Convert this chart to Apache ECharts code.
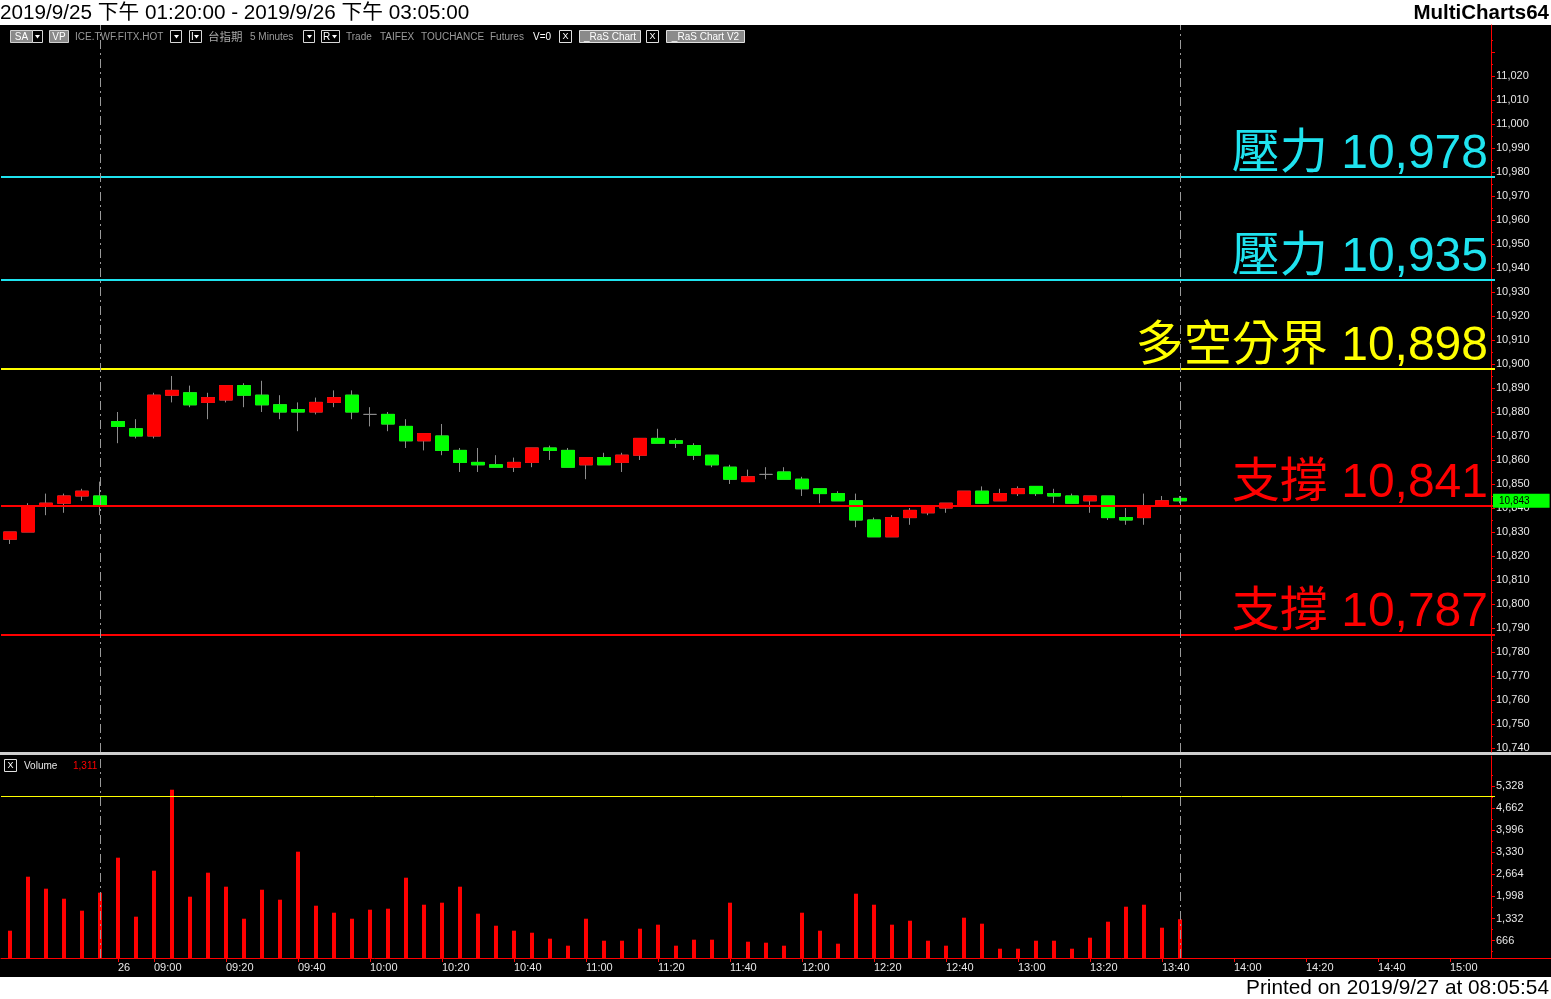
<!DOCTYPE html>
<html><head><meta charset="utf-8">
<script src="https://cdn.jsdelivr.net/npm/echarts/dist/echarts.min.js"></script>
<style>html,body{margin:0;padding:0;background:#000;}#c{width:1551px;height:999px;}</style>
</head><body><div id="c"></div>
<script>
// ---------- DATA ----------
const categories = [
 '9/25 13:20','9/25 13:25','9/25 13:30','9/25 13:35','9/25 13:40','9/25 13:45',
 '9/26 08:50','9/26 08:55','9/26 09:00','9/26 09:05','9/26 09:10','9/26 09:15','9/26 09:20','9/26 09:25','9/26 09:30','9/26 09:35',
 '9/26 09:40','9/26 09:45','9/26 09:50','9/26 09:55','9/26 10:00','9/26 10:05','9/26 10:10','9/26 10:15','9/26 10:20','9/26 10:25',
 '9/26 10:30','9/26 10:35','9/26 10:40','9/26 10:45','9/26 10:50','9/26 10:55','9/26 11:00','9/26 11:05','9/26 11:10','9/26 11:15',
 '9/26 11:20','9/26 11:25','9/26 11:30','9/26 11:35','9/26 11:40','9/26 11:45','9/26 11:50','9/26 11:55','9/26 12:00','9/26 12:05',
 '9/26 12:10','9/26 12:15','9/26 12:20','9/26 12:25','9/26 12:30','9/26 12:35','9/26 12:40','9/26 12:45','9/26 12:50','9/26 12:55',
 '9/26 13:00','9/26 13:05','9/26 13:10','9/26 13:15','9/26 13:20','9/26 13:25','9/26 13:30','9/26 13:35','9/26 13:40','9/26 13:45',
 '9/26 13:50','9/26 13:55','9/26 14:00','9/26 14:05','9/26 14:10','9/26 14:15','9/26 14:20','9/26 14:25','9/26 14:30','9/26 14:35',
 '9/26 14:40','9/26 14:45','9/26 14:50','9/26 14:55','9/26 15:00','9/26 15:05','9/26 15:10'
];
const opens  = [10827,10830,10841,10842,10845,10845,10876,10873,10870,10887,10888,10884,10885,10891,10887,10883,10881,10880,10884,10887,10879,10879,
                10874,10868,10870,10864,10859,10858,10857,10859,10865,10864,10858,10861,10859,10862,10869,10868,10866,10862,10857,10851,10854,10855,
                10852,10848,10846,10843,10835,10828,10836,10838,10840,10841,10847,10843,10846,10849,10846,10845,10843,10845,10836,10836,10841,10844];
const highs  = [10830,10842,10846,10846,10848,10851,10880,10877,10888,10895,10891,10888,10891,10892,10893,10887,10884,10886,10889,10889,10882,10880,
                10877,10871,10875,10865,10865,10862,10861,10865,10866,10865,10861,10863,10863,10869,10873,10869,10867,10862,10858,10856,10857,10857,
                10853,10848,10847,10846,10836,10837,10840,10841,10842,10847,10849,10848,10849,10849,10848,10846,10845,10845,10840,10846,10845,10845];
const lows   = [10825,10830,10837,10838,10843,10837,10867,10869,10869,10884,10882,10877,10884,10882,10880,10877,10872,10879,10882,10877,10874,10872,
                10865,10864,10862,10855,10855,10857,10855,10857,10860,10857,10852,10858,10855,10860,10867,10865,10860,10857,10850,10851,10852,10852,
                10845,10842,10843,10832,10828,10828,10833,10837,10838,10841,10842,10843,10845,10845,10842,10842,10838,10835,10833,10833,10841,10842];
const closes = [10830,10841,10842,10845,10847,10841,10874,10870,10887,10889,10883,10886,10891,10887,10883,10880,10880,10884,10886,10880,10879,10875,
                10868,10871,10864,10859,10858,10857,10859,10865,10864,10857,10861,10858,10862,10869,10867,10867,10862,10858,10852,10853,10854,10852,
                10848,10846,10843,10835,10828,10836,10839,10841,10842,10847,10842,10846,10848,10846,10845,10842,10845,10836,10835,10841,10843,10843];
const volumes = [965,2592,2231,1929,1568,2110,3165,1387,2773,5214,1989,2713,2291,1326,2200,1899,3346,1718,1507,1326,1598,1628,
                 2562,1748,1809,2291,1477,1115,965,904,724,513,1326,663,663,1025,1146,513,694,694,1809,633,603,513,
                 1507,965,573,2080,1748,1146,1266,663,513,1357,1176,422,422,663,663,422,754,1236,1688,1748,1055,1311];
const levelNames  = ['壓力','壓力','多空分界','支撐','支撐'];
const levelValues = [10978,10935,10898,10841,10787];
const volumeRefLevel = 5025;
const dayEndCats = ['9/25 13:45','9/26 13:45'];
const xTickCats  = ['9/26 08:50','9/26 09:00','9/26 09:20','9/26 09:40','9/26 10:00','9/26 10:20','9/26 10:40','9/26 11:00','9/26 11:20',
                    '9/26 11:40','9/26 12:00','9/26 12:20','9/26 12:40','9/26 13:00','9/26 13:20','9/26 13:40','9/26 14:00','9/26 14:20',
                    '9/26 14:40','9/26 15:00'];
const xTickTexts = ['26','09:00','09:20','09:40','10:00','10:20','10:40','11:00','11:20','11:40','12:00','12:20','12:40','13:00','13:20',
                    '13:40','14:00','14:20','14:40','15:00'];
const priceTickLabels = [10740,10750,10760,10770,10780,10790,10800,10810,10820,10830,10840,10850,10860,10870,10880,10890,10900,
                         10910,10920,10930,10940,10950,10960,10970,10980,10990,11000,11010,11020];
const priceMajorTicks = priceTickLabels.concat([11030]);
const priceMinorTicks = [10745,10755,10765,10775,10785,10795,10805,10815,10825,10835,10845,10855,10865,10875,10885,10895,10905,10915,
                         10925,10935,10945,10955,10965,10975,10985,10995,11005,11015,11025,11035];
const volTickLabels = [666,1332,1998,2664,3330,3996,4662,5328];
const volMinorTicks = [333,999,1665,2331,2997,3663,4329,4995,5661];
const titleText = '2019/9/25 下午 01:20:00 - 2019/9/26 下午 03:05:00';
const brandText = 'MultiCharts64';
const printedText = 'Printed on 2019/9/27 at 08:05:54';

// ---------- STYLE ----------
const levelColors = ['#1fe3ef','#1fe3ef','#ffff00','#ff0000','#ff0000'];
const UP = '#ff0000', DOWN = '#00ff00', WICK = '#8c8c8c', AXIS = '#ff0000', TXT = '#e6e6e6';
const FONT = "'Liberation Sans', Arial, 'Noto Sans CJK TC', sans-serif";
const fmt = v => Math.round(v).toLocaleString('en-US');

const wickData = opens.map((o, i) => [o, closes[i], lows[i], highs[i]]);
const bodyData = opens.map((o, i) => o === closes[i] ? '-' : [o, closes[i], Math.min(o, closes[i]), Math.max(o, closes[i])]);
const lastIdx = closes.length - 1;
const dayEndIdx = dayEndCats.map(c => categories.indexOf(c));
const tickIdx = new Set(xTickCats.map(c => categories.indexOf(c)));

const dashStyle = {color: '#9a9a9a', width: 1, type: [9, 4, 2, 4]};
const vLines = dayEndIdx.map(i => ({xAxis: i}));

// ---------- GRAPHIC (frame, header, toolbar) ----------
const g = [];
g.push({type:'rect', shape:{x:0,y:0,width:1551,height:25}, style:{fill:'#fff'}, silent:true});
g.push({type:'rect', shape:{x:0,y:977,width:1551,height:22}, style:{fill:'#fff'}, silent:true});
g.push({type:'text', x:0, y:13, style:{text:titleText, font:"20.7px 'Liberation Sans','Noto Sans CJK TC',sans-serif", fill:'#000', verticalAlign:'middle'}});
g.push({type:'text', x:1549, y:13, style:{text:brandText, font:"bold 20.5px 'Liberation Sans',sans-serif", fill:'#000', align:'right', verticalAlign:'middle'}});
g.push({type:'text', x:1549, y:988, style:{text:printedText, font:"20.8px 'Liberation Sans',sans-serif", fill:'#000', align:'right', verticalAlign:'middle'}});
// separator between panes
g.push({type:'rect', shape:{x:0,y:752,width:1551,height:3}, style:{fill:'#cfcfcf'}, silent:true});
// x-axis baseline extension under the scale
g.push({type:'line', shape:{x1:1491,y1:958.5,x2:1551,y2:958.5}, style:{stroke:AXIS, lineWidth:1}});
const TB = "10px 'Liberation Sans Narrow','Liberation Sans',sans-serif";
function box(x, w, label, fill, stroke) {
  g.push({type:'rect', shape:{x:x+0.5, y:30.5, width:w, height:12}, style:{fill: fill, stroke: stroke, lineWidth:1}});
  if (label) g.push({type:'text', x:x + w/2 + 0.5, y:37, style:{text:label, font:TB, fill:'#fff', align:'center', verticalAlign:'middle'}});
}
function drop(x, w, label) {
  g.push({type:'rect', shape:{x:x+0.5, y:30.5, width:w, height:12}, style:{fill:'#000', stroke:'#d8d8d8', lineWidth:1}});
  if (label) g.push({type:'text', x:x+2, y:37, style:{text:label, font:TB, fill:'#fff', verticalAlign:'middle'}});
  g.push({type:'polygon', shape:{points:[[x+w-7,35],[x+w-2,35],[x+w-4.5,38.5]]}, style:{fill:'#fff'}});
}
function xbox(x, y) {
  g.push({type:'rect', shape:{x:x+0.5, y:y+0.5, width:12, height:12}, style:{fill:'#000', stroke:'#e0e0e0', lineWidth:1}});
  g.push({type:'text', x:x+6.5, y:y+7, style:{text:'X', font:"9px 'Liberation Sans',sans-serif", fill:'#fff', align:'center', verticalAlign:'middle'}});
}
function tx(x, t, c, f) { g.push({type:'text', x:x, y:37, style:{text:t, font:f || TB, fill:c || '#9a9a9a', verticalAlign:'middle'}}); }
box(10, 22, 'SA', '#8a8a8a', '#d0d0d0'); drop(32, 10, '');
box(49, 19, 'VP', '#8a8a8a', '#d0d0d0');
tx(75, 'ICE.TWF.FITX.HOT');
drop(170, 11, '');
drop(189, 12, 'I');
tx(208, '台指期', '#a8a8a8', "11.5px 'Noto Sans CJK TC',sans-serif");
tx(250, '5 Minutes');
drop(303, 11, '');
drop(321, 18, 'R');
tx(346, 'Trade'); tx(380, 'TAIFEX'); tx(421, 'TOUCHANCE'); tx(490, 'Futures');
tx(533, 'V=0', '#ffffff');
xbox(559, 30);
box(579, 61, '_RaS Chart', '#8a8a8a', '#e0e0e0');
xbox(646, 30);
box(666, 78, '_RaS Chart V2', '#8a8a8a', '#e0e0e0');
// volume pane header
xbox(4, 759);
g.push({type:'text', x:24, y:766, style:{text:'Volume', font:"10px 'Liberation Sans',sans-serif", fill:'#e6e6e6', verticalAlign:'middle'}});
g.push({type:'text', x:73, y:766, style:{text:fmt(volumes[lastIdx]), font:"10px 'Liberation Sans',sans-serif", fill:'#ff0000', verticalAlign:'middle'}});

// ---------- OPTION ----------
const option = {
  backgroundColor: '#000',
  animation: false,
  grid: [
    {left: 1, top: 25, width: 1494, height: 727},
    {left: 1, top: 756, width: 1494, height: 202}
  ],
  xAxis: [
    {type:'category', gridIndex:0, data:categories, boundaryGap:true,
     axisLine:{show:false}, axisTick:{show:false}, axisLabel:{show:false}, splitLine:{show:false}},
    {type:'category', gridIndex:1, data:categories, boundaryGap:true,
     axisLine:{show:true, lineStyle:{color:AXIS, width:1}},
     axisTick:{show:true, alignWithLabel:true, length:4, lineStyle:{color:AXIS}, interval:(i) => tickIdx.has(i)},
     axisLabel:{show:true, interval:(i) => tickIdx.has(i), align:'left', color:TXT, fontSize:11, fontFamily:FONT, margin:4,
                formatter:(v) => xTickTexts[xTickCats.indexOf(v)] || ''},
     splitLine:{show:false}}
  ],
  yAxis: [
    {type:'value', gridIndex:0, position:'right', offset:-4, min:10738.33, max:11041.25, scale:true,
     axisLine:{show:true, lineStyle:{color:AXIS, width:1}},
     axisTick:{show:true, length:4, lineStyle:{color:AXIS}, customValues:priceMajorTicks},
     axisLabel:{show:true, color:TXT, fontSize:11, fontFamily:FONT, margin:5, customValues:priceTickLabels, formatter:fmt},
     splitLine:{show:false}},
    {type:'value', gridIndex:0, position:'right', offset:-4, min:10738.33, max:11041.25, scale:true,
     axisLine:{show:false},
     axisTick:{show:true, length:2, lineStyle:{color:AXIS}, customValues:priceMinorTicks},
     axisLabel:{show:false}, splitLine:{show:false}},
    {type:'value', gridIndex:1, position:'right', offset:-4, min:142, max:6230, scale:true,
     axisLine:{show:true, lineStyle:{color:AXIS, width:1}},
     axisTick:{show:true, length:4, lineStyle:{color:AXIS}, customValues:volTickLabels},
     axisLabel:{show:true, color:TXT, fontSize:11, fontFamily:FONT, margin:5, customValues:volTickLabels, formatter:fmt},
     splitLine:{show:false}},
    {type:'value', gridIndex:1, position:'right', offset:-4, min:142, max:6230, scale:true,
     axisLine:{show:false},
     axisTick:{show:true, length:2, lineStyle:{color:AXIS}, customValues:volMinorTicks},
     axisLabel:{show:false}, splitLine:{show:false}}
  ],
  series: [
    {type:'candlestick', name:'wick', xAxisIndex:0, yAxisIndex:0, data:wickData, barWidth:13,
     itemStyle:{color:WICK, color0:WICK, borderColor:WICK, borderColor0:WICK, borderColorDoji:WICK, borderWidth:1},
     markLine:{silent:true, symbol:'none', animation:false,
       data: levelValues.map((v, i) => ({yAxis:v, lineStyle:{color:levelColors[i], width:2, type:'solid'},
              label:{show:true, position:'insideEndTop', distance:[7, -2], formatter: levelNames[i] + ' ' + fmt(v),
                     color:levelColors[i], fontSize:48, fontFamily:FONT}}))
         .concat(vLines.map(d => Object.assign({}, d, {lineStyle:dashStyle, label:{show:false}})))
     }},
    {type:'candlestick', name:'body', xAxisIndex:0, yAxisIndex:0, data:bodyData, barWidth:13,
     itemStyle:{color:UP, color0:DOWN, borderColor:UP, borderColor0:DOWN, borderWidth:1},
     markLine:{silent:true, symbol:'none', animation:false,
       data:[{yAxis:closes[lastIdx], lineStyle:{color:'rgba(0,0,0,0)', width:1, type:'solid'},
              label:{show:true, position:'end', distance:-2, formatter: fmt(closes[lastIdx]), color:'#000', fontSize:10,
                     fontFamily:FONT, backgroundColor:DOWN, padding:[2, 20, 2, 6]}}]}},
    {type:'bar', name:'Volume', xAxisIndex:1, yAxisIndex:2, data:volumes, barWidth:4, clip:true,
     itemStyle:{color:'#ff0000'},
     markLine:{silent:true, symbol:'none', animation:false,
       data:[{yAxis:volumeRefLevel, lineStyle:{color:'#ffff00', width:1, type:'solid'}, label:{show:false}}]
         .concat(vLines.map(d => Object.assign({}, d, {lineStyle:dashStyle, label:{show:false}})))}}
  ],
  graphic: {elements: g}
};
const chart = echarts.init(document.getElementById('c'), null, {renderer:'canvas'});
chart.setOption(option);
</script>
</body></html>
